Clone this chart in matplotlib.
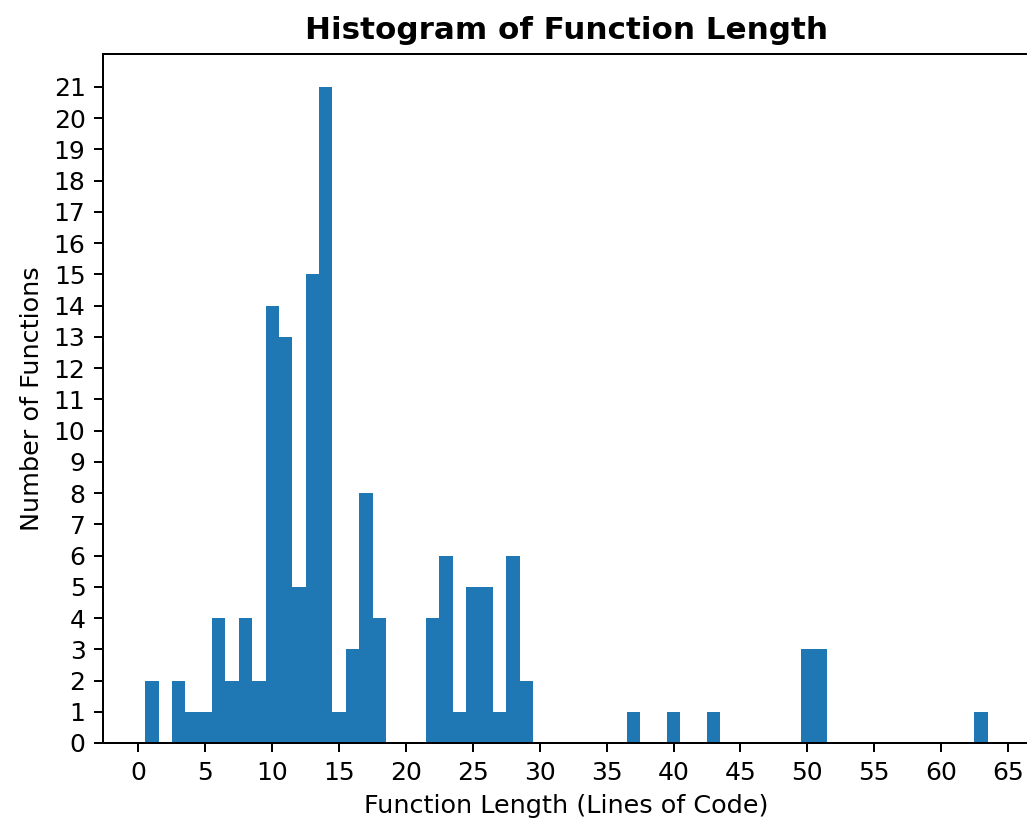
import numpy as np
import matplotlib
matplotlib.use("Agg")
import matplotlib.pyplot as plt

# function length (lines of code) -> how many functions have it
lengths = [1, 3, 4, 5, 6, 7, 8, 9, 10, 11, 12, 13, 14, 15, 16, 17, 18,
           22, 23, 24, 25, 26, 27, 28, 29, 37, 40, 43, 50, 51, 63]
counts = [2, 2, 1, 1, 4, 2, 4, 2, 14, 13, 5, 15, 21, 1, 3, 8, 4,
          4, 6, 1, 5, 5, 1, 6, 2, 1, 1, 1, 3, 3, 1]

bins = np.arange(min(lengths) - 0.5, max(lengths) + 1.5)

fig = plt.figure(figsize=(1027 / 180, 826 / 180), dpi=180)
ax = fig.add_axes([103 / 1027, (826 - 743) / 826, 927 / 1027, (743 - 54) / 826])

ax.hist(lengths, bins=bins, weights=counts)
ax.set_xticks(np.arange(0, 70, 5))
ax.set_yticks(np.arange(0, max(counts) + 1, 1))
ax.set_title("Histogram of Function Length", fontsize=12.4, fontweight="bold")
ax.set_xlabel("Function Length (Lines of Code)", fontsize=10.2)
ax.set_ylabel("Number of Functions", fontsize=10.2)

fig.savefig("out.png", dpi=180)
